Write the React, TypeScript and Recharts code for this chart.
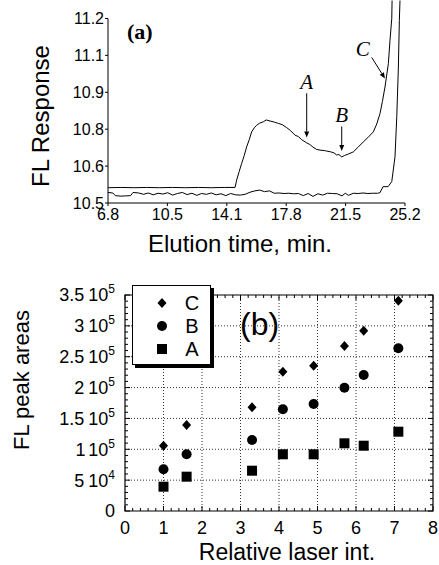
import {
  Customized,
  Legend,
  Line,
  LineChart,
  ReferenceArea,
  ReferenceLine,
  Scatter,
  ScatterChart,
  XAxis,
  YAxis,
  ZAxis,
} from "recharts";

const SANS = "'Liberation Sans', Arial, Helvetica, sans-serif";
const SERIF = "'Liberation Serif', 'Times New Roman', serif";

// ---- panel (a): two chromatogram traces (elution time, FL response) ----
const UPPER_T = [
  6.8, 7.6, 8.4, 9.2, 10.0, 10.8, 11.6, 12.4, 13.2, 14.0, 14.67, 14.77, 14.93, 15.08, 15.24,
  15.39, 15.55, 15.7, 15.86, 16.01, 16.2, 16.42, 16.6, 16.84, 17.1, 17.35, 17.6, 17.87, 18.1,
  18.39, 18.6, 18.8, 19.11, 19.3, 19.5, 19.73, 20.0, 20.2, 20.35, 20.6, 20.8, 20.97, 21.1,
  21.28, 21.45, 21.7, 22.0, 22.3, 22.62, 22.9, 23.24, 23.45, 23.65, 23.8, 23.96, 24.17, 24.27,
  24.38, 24.4,
];
const UPPER_V = [
  10.558, 10.559, 10.558, 10.559, 10.558, 10.559, 10.558, 10.559, 10.558, 10.559, 10.559,
  10.587, 10.62, 10.65, 10.68, 10.713, 10.74, 10.77, 10.785, 10.795, 10.803, 10.808, 10.815,
  10.811, 10.807, 10.802, 10.797, 10.786, 10.775, 10.757, 10.752, 10.74, 10.728, 10.722,
  10.712, 10.703, 10.7, 10.699, 10.697, 10.694, 10.69, 10.682, 10.684, 10.675, 10.68, 10.686,
  10.694, 10.712, 10.732, 10.748, 10.77, 10.8, 10.839, 10.885, 10.94, 11.029, 11.117, 11.199,
  11.268,
];
const LOWER_T = [
  6.8, 7.1, 7.25, 7.6, 7.9, 8.2, 8.35, 8.7, 9.0, 9.3, 9.6, 9.9, 10.2, 10.5, 10.8, 11.1, 11.4,
  11.7, 12.0, 12.3, 12.6, 12.9, 13.2, 13.5, 13.8, 14.1, 14.4, 14.7, 15.0, 15.3, 15.6, 15.9,
  16.2, 16.5, 16.8, 17.1, 17.4, 17.7, 18.0, 18.3, 18.6, 18.9, 19.2, 19.5, 19.8, 20.1, 20.4,
  20.7, 21.0, 21.3, 21.5, 21.7, 22.0, 22.3, 22.6, 22.9, 23.2, 23.5, 23.65, 23.84, 24.15,
  24.38, 24.58, 24.69, 24.79, 24.85, 24.89,
];
const LOWER_V = [
  10.54, 10.538, 10.528, 10.526, 10.527, 10.528, 10.54, 10.538, 10.533, 10.538, 10.531,
  10.537, 10.534, 10.539, 10.53, 10.536, 10.54, 10.532, 10.537, 10.529, 10.536, 10.533,
  10.538, 10.531, 10.535, 10.528, 10.536, 10.531, 10.53, 10.533, 10.541, 10.546, 10.549,
  10.543, 10.546, 10.537, 10.538, 10.536, 10.537, 10.535, 10.536, 10.528, 10.536, 10.525,
  10.535, 10.53, 10.537, 10.536, 10.535, 10.527, 10.537, 10.529, 10.537, 10.536, 10.538,
  10.536, 10.537, 10.537, 10.539, 10.562, 10.562, 10.581, 10.675, 10.827, 11.016, 11.192,
  11.268,
];
const X_TICKS_A = [6.8, 10.48, 14.16, 17.84, 21.52, 25.2];
const X_LABELS_A = ["6.8", "10.5", "14.1", "17.8", "21.5", "25.2"];
const Y_TICKS_A = [10.5, 10.64, 10.78, 10.92, 11.06, 11.2];
const Y_LABELS_A = ["10.5", "10.6", "10.8", "10.9", "11.1", "11.2"];

// hand-drawn arrows pointing at peaks A, B, C
const ARROWS = [
  { label: "A", from: [19.11, 10.916], to: [19.11, 10.748], dx: 0, dy: -4 },
  { label: "B", from: [21.28, 10.79], to: [21.28, 10.697], dx: 0, dy: -5 },
  { label: "C", from: [23.14, 11.052], to: [23.96, 10.972], dx: -9, dy: -1 },
];

// ---- panel (b): peak areas vs laser intensity ----
const LASER = [1, 1.6, 3.3, 4.1, 4.9, 5.7, 6.2, 7.1];
const AREA_C = [105800, 139400, 168000, 225800, 235500, 267400, 292200, 340800];
const AREA_B = [67600, 91900, 115000, 164800, 173400, 199800, 220400, 263700];
const AREA_A = [39400, 55600, 65300, 91900, 91900, 109700, 105800, 128500];
const X_MAJOR_B = [0, 1, 2, 3, 4, 5, 6, 7, 8];
const Y_MAJOR_B = [0, 50000, 100000, 150000, 200000, 250000, 300000, 350000];
const Y_MANT_B = ["0", "5", "1", "1.5", "2", "2.5", "3", "3.5"];
const Y_EXP_B = ["", "4", "5", "5", "5", "5", "5", "5"];

const X_TICKS_B = Array.from({ length: 41 }, (_, i) => i / 5);
const Y_TICKS_B = Array.from({ length: 36 }, (_, i) => i * 10000);

const upper = UPPER_T.map((t, i) => ({ t, v: UPPER_V[i] }));
const lower = LOWER_T.map((t, i) => ({ t, v: LOWER_V[i] }));
const zip = (ys: number[]) => LASER.map((x, i) => ({ x, y: ys[i] }));

// plot box of panel (b), chart-local pixels
const B_LEFT = 125;
const B_RIGHT = 433;
const B_TOP = 15;
const B_BOTTOM = 231;

const Diamond = ({ cx, cy }: any) => (
  <polygon
    points={`${cx},${cy - 5} ${cx + 4.5},${cy} ${cx},${cy + 5} ${cx - 4.5},${cy}`}
    fill="#000"
  />
);
const Dot = ({ cx, cy }: any) => <circle cx={cx} cy={cy} r={5} fill="#000" />;
const Square = ({ cx, cy }: any) => (
  <rect x={cx - 5} y={cy - 5} width={10} height={10} fill="#000" />
);

const makeArrow = (letter: string, dx: number, dy: number) => (p: any) => {
  const { x1, y1, x2, y2 } = p;
  const ang = Math.atan2(y2 - y1, x2 - x1);
  const bx = x2 - 6 * Math.cos(ang);
  const by = y2 - 6 * Math.sin(ang);
  const px = -Math.sin(ang) * 2.5;
  const py = Math.cos(ang) * 2.5;
  return (
    <g>
      <line x1={x1} y1={y1} x2={bx} y2={by} stroke="#000" strokeWidth={1} />
      <polygon points={`${x2},${y2} ${bx + px},${by + py} ${bx - px},${by - py}`} fill="#000" />
      <text
        x={x1 + dx}
        y={y1 + dy}
        textAnchor="middle"
        fontFamily={SERIF}
        fontStyle="italic"
        fontSize={21}
        fill="#000"
      >
        {letter}
      </text>
    </g>
  );
};

function TitlesA() {
  return (
    <g fontFamily={SANS} fill="#000">
      <text transform="translate(49,116) rotate(-90)" textAnchor="middle" fontSize={24}>
        FL Response
      </text>
      <text x={240} y={252} textAnchor="middle" fontSize={24}>
        Elution time, min.
      </text>
      <text x={127} y={39} fontSize={22} fontWeight="bold" fontFamily={SERIF}>
        (a)
      </text>
    </g>
  );
}

function TitlesB() {
  return (
    <g fontFamily={SANS} fill="#000">
      <text transform="translate(29,100) rotate(-90)" textAnchor="middle" fontSize={22}>
        FL peak areas
      </text>
      <text x={287} y={280} textAnchor="middle" fontSize={23}>
        Relative laser int.
      </text>
      <text x={240} y={55} fontSize={32}>
        (b)
      </text>
    </g>
  );
}

function XTickB({ x, payload }: any) {
  const i = X_MAJOR_B.indexOf(payload.value);
  const len = i >= 0 ? 5 : 3;
  return (
    <g>
      <line x1={x} x2={x} y1={B_BOTTOM} y2={B_BOTTOM - len} stroke="#000" />
      <line x1={x} x2={x} y1={B_TOP} y2={B_TOP + len} stroke="#000" />
      {i >= 0 && (
        <text x={x} y={B_BOTTOM + 23} textAnchor="middle" fontSize={18} fontFamily={SANS} fill="#000">
          {X_MAJOR_B[i]}
        </text>
      )}
    </g>
  );
}

function YTickB({ y, payload }: any) {
  const i = Y_MAJOR_B.indexOf(payload.value);
  const len = i >= 0 ? 5 : 3;
  return (
    <g>
      <line x1={B_LEFT} x2={B_LEFT + len} y1={y} y2={y} stroke="#000" />
      <line x1={B_RIGHT} x2={B_RIGHT - len} y1={y} y2={y} stroke="#000" />
      {i >= 0 && (
        <text x={B_LEFT - 10} y={y} dy="0.36em" textAnchor="end" fontSize={18} fontFamily={SANS} fill="#000">
          {Y_MANT_B[i]}
          {Y_EXP_B[i] && (
            <>
              <tspan dx={4}>10</tspan>
              <tspan dy={-8} fontSize={12}>
                {Y_EXP_B[i]}
              </tspan>
            </>
          )}
        </text>
      )}
    </g>
  );
}

const LEGEND_ROWS = [
  { name: "C", Shape: Diamond, y: 17 },
  { name: "B", Shape: Dot, y: 40 },
  { name: "A", Shape: Square, y: 63 },
];

function LegendBox() {
  return (
    <div
      style={{
        width: 79,
        height: 80,
        border: "1px solid #000",
        boxShadow: "3px 3px 0 #000",
        background: "#fff",
        boxSizing: "border-box",
      }}
    >
      <svg width={77} height={78} style={{ display: "block" }}>
        {LEGEND_ROWS.map(({ name, Shape, y }) => (
          <g key={name}>
            <Shape cx={29} cy={y} />
            <text x={59} y={y} dy="0.36em" textAnchor="middle" fontSize={20} fontFamily={SANS} fill="#000">
              {name}
            </text>
          </g>
        ))}
      </svg>
    </div>
  );
}

export default function App() {
  const tickX = { fontSize: 16, fill: "#000", fontFamily: SANS };
  const tickY = { fontSize: 16, fill: "#000", fontFamily: SANS };
  return (
    <div style={{ position: "absolute", left: 0, top: 0, width: 439, height: 565, background: "#fff" }}>
      <div style={{ position: "absolute", left: 0, top: 0 }}>
        <LineChart width={439} height={260} margin={{ top: 0, right: 34, bottom: 0, left: 0 }}>
          <XAxis
            type="number"
            dataKey="t"
            domain={[6.8, 25.2]}
            ticks={X_TICKS_A}
            interval={0}
            tickFormatter={(v) => X_LABELS_A[X_TICKS_A.indexOf(v)]}
            tick={tickX}
            tickSize={3}
            tickMargin={3}
            height={57}
            stroke="#000"
          />
          <YAxis
            type="number"
            dataKey="v"
            domain={[10.5, 11.27]}
            ticks={Y_TICKS_A}
            interval={0}
            tickFormatter={(v) => Y_LABELS_A[Y_TICKS_A.indexOf(v)]}
            tick={tickY}
            tickSize={3}
            tickMargin={1}
            width={108}
            axisLine={false}
            stroke="#000"
          />
          <ReferenceLine
            segment={[
              { x: 6.8, y: 10.5 },
              { x: 6.8, y: 11.2 },
            ]}
            stroke="#000"
          />
          <Line data={lower} dataKey="v" stroke="#000" strokeWidth={1} dot={false} isAnimationActive={false} />
          <Line data={upper} dataKey="v" stroke="#000" strokeWidth={1} dot={false} isAnimationActive={false} />
          {ARROWS.map((a) => (
            <ReferenceLine
              key={a.label}
              segment={[
                { x: a.from[0], y: a.from[1] },
                { x: a.to[0], y: a.to[1] },
              ]}
              shape={makeArrow(a.label, a.dx, a.dy)}
            />
          ))}
          <Customized component={<TitlesA />} />
        </LineChart>
      </div>

      <div style={{ position: "absolute", left: 0, top: 280 }}>
        <ScatterChart width={439} height={285} margin={{ top: B_TOP, right: 439 - B_RIGHT, bottom: 0, left: 0 }}>
          <XAxis
            type="number"
            dataKey="x"
            domain={[0, 8]}
            ticks={X_TICKS_B}
            interval={0}
            height={54}
            axisLine={false}
            tickLine={false}
            tick={<XTickB />}
          />
          <YAxis
            type="number"
            dataKey="y"
            domain={[0, 350000]}
            ticks={Y_TICKS_B}
            interval={0}
            width={B_LEFT}
            axisLine={false}
            tickLine={false}
            tick={<YTickB />}
          />
          <ZAxis range={[80, 80]} />
          {Y_MAJOR_B.slice(1, -1).map((v) => (
            <ReferenceLine key={`h${v}`} y={v} stroke="#333" strokeDasharray="1 2" />
          ))}
          {X_MAJOR_B.slice(1, -1).map((v) => (
            <ReferenceLine key={`v${v}`} x={v} stroke="#333" strokeDasharray="1 2" />
          ))}
          <ReferenceArea x1={0} x2={8} y1={0} y2={350000} fill="none" fillOpacity={0} stroke="#000" strokeWidth={1.2} />
          <Scatter name="A" data={zip(AREA_A)} shape={Square} isAnimationActive={false} />
          <Scatter name="B" data={zip(AREA_B)} shape={Dot} isAnimationActive={false} />
          <Scatter name="C" data={zip(AREA_C)} shape={Diamond} isAnimationActive={false} />
          <Legend
            layout="horizontal"
            verticalAlign="middle"
            align="center"
            content={<LegendBox />}
            wrapperStyle={{ left: 132, top: 5, width: 82, height: 83 }}
          />
          <Customized component={<TitlesB />} />
        </ScatterChart>
      </div>
    </div>
  );
}
